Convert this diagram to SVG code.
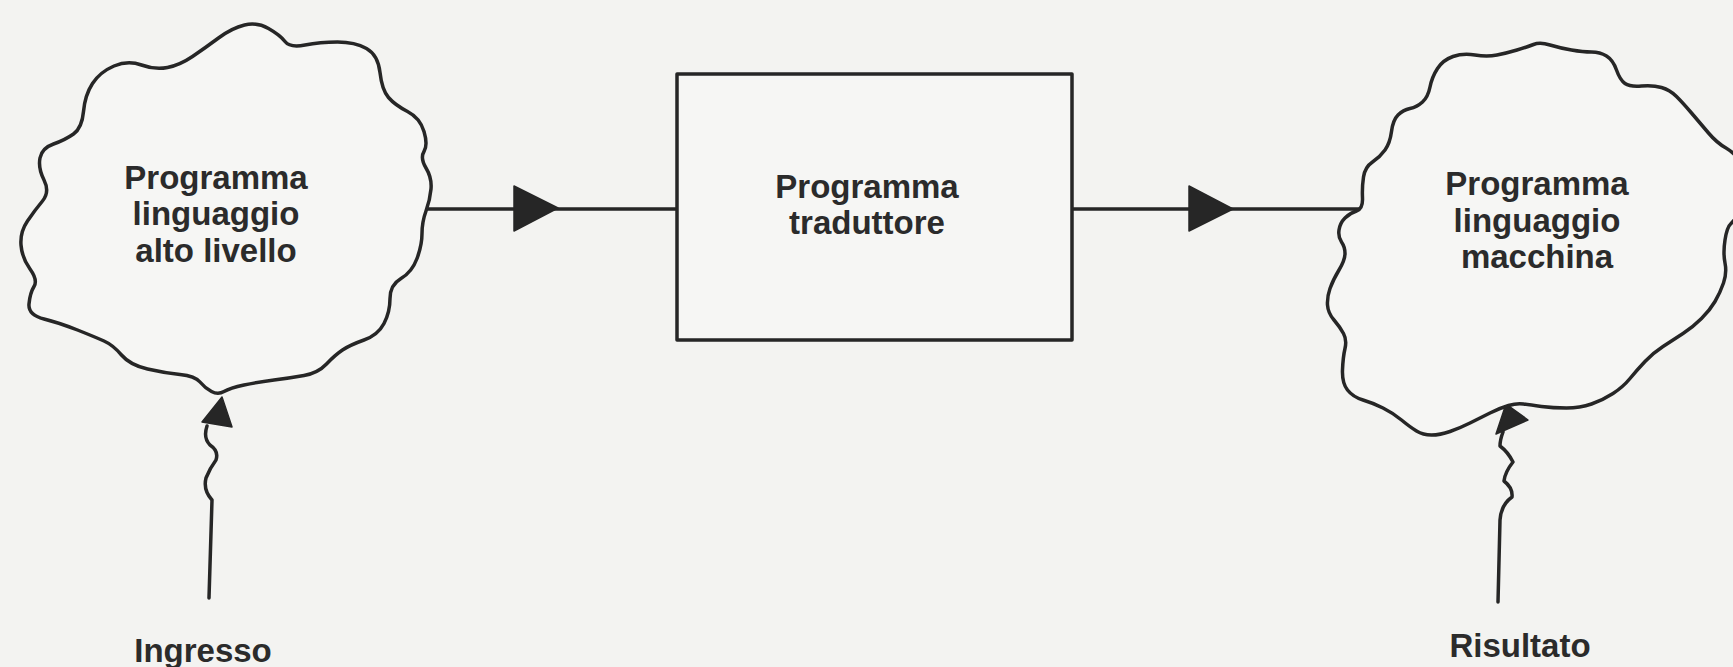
<svg xmlns="http://www.w3.org/2000/svg" width="1733" height="667" viewBox="0 0 1733 667">
<style>
.ln{fill:none;stroke:#262626;stroke-width:3.5;stroke-linejoin:round;stroke-linecap:round}
.nd{fill:#f6f6f4;stroke:#262626;stroke-width:3.5;stroke-linejoin:round}
.ah{fill:#262626;stroke:#262626;stroke-width:1.5;stroke-linejoin:round}
text{font-family:"Liberation Sans",Arial,sans-serif;font-weight:bold;font-size:33px;fill:#2b2b2b;text-anchor:middle}
</style>
<rect x="0" y="0" width="1733" height="667" fill="#f3f3f1"/>
<g id="connectors">
<path class="ln" d="M427,209 H677"/>
<path class="ah" d="M514,186 L514,231 L558,208 Z"/>
<path class="ln" d="M1072,209 H1362"/>
<path class="ah" d="M1189,186 L1189,231 L1233,209 Z"/>
<path class="ln" d="M209,598 L212,500 Q203,490 206,478 Q210,468 216,460 Q219,451 210,445 Q203,438 207,426"/>
<path class="ah" d="M222,397 L202,422 L232,427 Z"/>
<path class="ln" d="M1498,602 L1500,520 Q1501,505 1512,497 Q1513,488 1504,481 Q1505,472 1513,462 Q1508,452 1500,446 Q1500,440 1503,432"/>
<path class="ah" d="M1506,404 L1496,434 L1528,420 Z"/>
</g>
<g id="node-alto-livello">
<path class="nd" d="M244.5,25 Q257,22 268.5,28.5 Q280,35 285,41.5 Q290,48 305,45 Q320,42 337.5,42 Q355,42 366.5,48.5 Q378,55 380,72.5 Q382,90 388.5,97.5 Q395,105 407.5,111.5 Q420,118 424,131.5 Q428,145 424,151.5 Q420,158 426,168 Q432,178 431,189 Q430,200 426,211 Q422,222 422,233.5 Q422,245 417,258.5 Q412,272 401,278.5 Q390,285 390,298.5 Q390,312 384,323.5 Q378,335 364,340 Q350,345 342.5,350 Q335,355 326.5,364 Q318,373 304,375.5 Q290,378 274,380 Q258,382 244,385 Q230,388 224,391.5 Q218,395 211.5,391.5 Q205,388 200,382 Q195,376 180,374.5 Q165,373 147.5,369 Q130,365 121.5,355 Q113,345 104,341 Q95,337 77.5,330 Q60,323 44,319 Q28,315 29,304 Q30,293 34,286.5 Q38,280 30,269 Q22,258 21,245 Q20,232 27.5,221 Q35,210 42.5,201 Q50,192 44,180 Q38,168 40,158 Q42,148 53.5,144 Q65,140 73.5,134 Q82,128 83.5,111.5 Q85,95 92.5,83.5 Q100,72 114,66 Q128,60 141.5,65 Q155,70 167.5,67.5 Q180,65 192.5,56.5 Q205,48 218.5,38 Q232,28 244.5,25 Z"/>
<text x="216" y="189">Programma</text>
<text x="216" y="225">linguaggio</text>
<text x="216" y="262">alto livello</text>
</g>
<g id="node-traduttore">
<rect class="nd" x="677" y="74" width="395" height="266"/>
<text x="867" y="198">Programma</text>
<text x="867" y="234">traduttore</text>
</g>
<g id="node-macchina">
<path class="nd" d="M1533.5,44.5 Q1540,42 1550,45 Q1560,48 1571.5,50 Q1583,52 1591.5,52 Q1600,52 1606.5,56 Q1613,60 1616.5,70 Q1620,80 1625,83.5 Q1630,87 1641.5,86 Q1653,85 1661.5,87.5 Q1670,90 1676.5,96.5 Q1683,103 1691.5,113 Q1700,123 1708.5,133 Q1717,143 1726,148 Q1735,153 1747.5,169 Q1760,185 1747.5,202.5 Q1735,220 1731,223.5 Q1727,227 1725,240 Q1723,253 1725,263 Q1727,273 1723.5,283 Q1720,293 1715,301.5 Q1710,310 1701.5,318.5 Q1693,327 1683,333.5 Q1673,340 1663,346.5 Q1653,353 1645,361.5 Q1637,370 1630,378.5 Q1623,387 1613,393.5 Q1603,400 1591.5,404 Q1580,408 1566.5,408 Q1553,408 1541.5,406.5 Q1530,405 1523.5,404 Q1517,403 1508.5,405.5 Q1500,408 1490,413 Q1480,418 1470,423 Q1460,428 1450,431.5 Q1440,435 1431.5,435 Q1423,435 1416.5,431 Q1410,427 1401.5,420 Q1393,413 1383,408 Q1373,403 1363,400 Q1353,397 1347.5,390 Q1342,383 1342.5,370 Q1343,357 1345,348.5 Q1347,340 1343.5,333.5 Q1340,327 1334,320 Q1328,313 1327.5,305 Q1327,297 1330,288.5 Q1333,280 1339,270 Q1345,260 1345,253.5 Q1345,247 1341.5,242 Q1338,237 1339,230 Q1340,223 1345,218 Q1350,213 1356.5,211 Q1363,209 1362.5,198 Q1362,187 1363.5,177 Q1365,167 1372.5,162 Q1380,157 1385,150 Q1390,143 1391.5,131.5 Q1393,120 1398,115 Q1403,110 1410,108.5 Q1417,107 1422.5,102 Q1428,97 1430,87 Q1432,77 1437.5,68.5 Q1443,60 1453,56.5 Q1463,53 1475,55 Q1487,57 1497,55 Q1507,53 1517,50 Q1527,47 1533.5,44.5 Z"/>
<text x="1537" y="195">Programma</text>
<text x="1537" y="232">linguaggio</text>
<text x="1537" y="268">macchina</text>
</g>
<g id="label-ingresso">
<text x="203" y="662">Ingresso</text>
</g>
<g id="label-risultato">
<text x="1520" y="657">Risultato</text>
</g>
</svg>
